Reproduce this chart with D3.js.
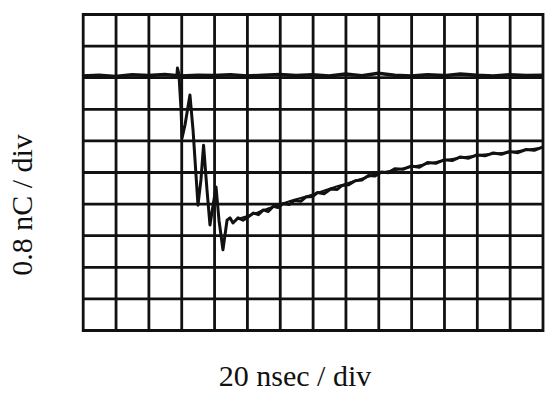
<!DOCTYPE html>
<html>
<head>
<meta charset="utf-8">
<script src="https://cdn.jsdelivr.net/npm/d3@7"></script>
<style>
  body { margin: 0; background: #fff; }
  svg text { font-family: "Liberation Serif", "DejaVu Serif", serif; fill: #111; }
</style>
</head>
<body>
<div id="vis"></div>
<script>
// scope screen: 14 x 10 divisions, 20 ns/div and 0.8 nC/div
const xTicks = d3.range(0, 281, 20)          // ns
const yTicks = d3.range(-6.4, 1.61, 0.8)     // nC

// zero reference trace (full sweep)
const baseT = d3.range(0, 281, 10)
const baseQ = [0.03, 0.05, 0.02, 0.06, 0.04, 0.07, 0.03, 0.05, 0.04, 0.06, 0.03, 0.05, 0.07, 0.04, 0.06,
               0.03, 0.08, 0.04, 0.10, 0.05, 0.03, 0.06, 0.04, 0.08, 0.05, 0.03, 0.06, 0.04, 0.05]

// measured signal
const sigT = [57.4, 57.7, 58.6, 59.9, 60.5, 62.3, 65.3, 67.2, 70.2, 72.0, 73.6, 75.7, 77.5, 79.4, 81.2,
              83.0, 85.4, 87.9, 89.7, 91.5, 94.6, 97.6, 100.7, 104, 107, 110, 113, 116, 119, 122,
              126, 129, 133, 136, 140, 143, 147, 151, 155, 158, 162, 166, 170, 174, 178, 182, 186,
              190, 195, 200, 205, 210, 215, 220, 225, 230, 235, 240, 245, 250, 255, 260, 265, 270, 275, 280]
const sigQ = [0.06, 0.23, 0.08, -0.83, -1.54, -1.21, -0.45, -1.34, -3.24, -2.60, -1.72, -2.86, -3.74, -3.24, -2.78,
              -3.62, -4.37, -3.62, -3.56, -3.69, -3.56, -3.62, -3.54, -3.44, -3.48, -3.36, -3.40, -3.27, -3.30, -3.20,
              -3.22, -3.12, -3.14, -3.03, -3.02, -2.92, -2.95, -2.83, -2.84, -2.74, -2.72, -2.62, -2.60, -2.49, -2.50, -2.40, -2.42,
              -2.32, -2.33, -2.25, -2.28, -2.16, -2.18, -2.09, -2.11, -2.02, -2.05, -1.97, -1.99, -1.92, -1.95, -1.88, -1.91, -1.83, -1.85, -1.77]

// fitted curve over the decay part
const fitT = [95, 100, 110, 120, 130, 140, 150, 160, 170, 180, 190, 200, 210, 220, 230, 240, 250, 260, 270, 280]
const fitQ = [-3.58, -3.52, -3.37, -3.22, -3.09, -2.97, -2.83, -2.70, -2.57, -2.44, -2.35, -2.27, -2.19, -2.11, -2.04, -1.98, -1.94, -1.90, -1.84, -1.78]

const W = 546, H = 399
const margin = {left: 82.7, right: 3.5, top: 14, bottom: 69}

const svg = d3.select('#vis').append('svg')
    .attr('width', W)
    .attr('height', H)

const x = d3.scaleLinear().domain([0, 280]).range([margin.left, W - margin.right])
const y = d3.scaleLinear().domain([-6.4, 1.6]).range([H - margin.bottom, margin.top])

// grid lines from the axes, labels removed
svg.append('g')
    .attr('transform', `translate(0,${y(-6.4)})`)
    .call(d3.axisBottom(x).tickValues(xTicks).tickSize(-(y(-6.4) - y(1.6)) - 3).tickSizeOuter(0).tickFormat(''))
    .call(g => g.select('.domain').remove())
    .call(g => g.selectAll('.tick line').attr('stroke', '#111').attr('stroke-width', 2.8).attr('transform', 'translate(0,2)'))

svg.append('g')
    .attr('transform', `translate(${x(0)},0)`)
    .call(d3.axisLeft(y).tickValues(yTicks).tickSize(-(x(280) - x(0))).tickSizeOuter(0).tickFormat(''))
    .call(g => g.select('.domain').remove())
    .call(g => g.selectAll('.tick line').attr('stroke', '#111').attr('stroke-width', 2.8))

const line = d3.line()
    .x(d => x(d[0]))
    .y(d => y(d[1]))

svg.append('path')
    .datum(d3.zip(baseT, baseQ))
    .attr('fill', 'none')
    .attr('stroke', '#111')
    .attr('stroke-width', 3.5)
    .attr('d', line)

svg.append('path')
    .datum(d3.zip(fitT, fitQ))
    .attr('fill', 'none')
    .attr('stroke', '#111')
    .attr('stroke-width', 2)
    .attr('d', line.curve(d3.curveMonotoneX))

svg.append('path')
    .datum(d3.zip(sigT, sigQ))
    .attr('fill', 'none')
    .attr('stroke', '#111')
    .attr('stroke-width', 3)
    .attr('stroke-linejoin', 'round')
    .attr('d', d3.line().x(d => x(d[0])).y(d => y(d[1])))

// axis captions
svg.append('text')
    .attr('x', 295)
    .attr('y', 386)
    .attr('text-anchor', 'middle')
    .attr('font-size', '30px')
    .text('20 nsec / div')

svg.append('text')
    .attr('transform', 'translate(32,205) rotate(-90)')
    .attr('text-anchor', 'middle')
    .attr('font-size', '30px')
    .text('0.8 nC / div')
</script>
</body>
</html>
